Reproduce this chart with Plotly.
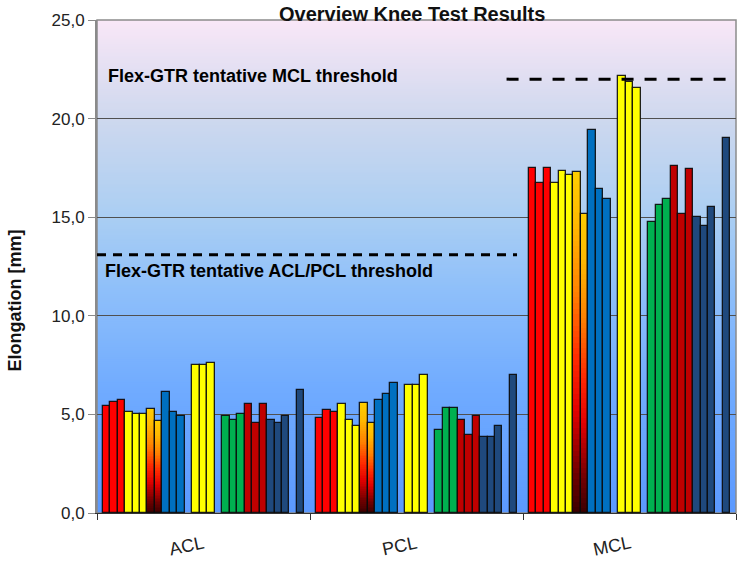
import plotly.graph_objects as go

# ---- data -------------------------------------------------------------
categories = ["ACL", "PCL", "MCL"]

# each inner list is one test series: elongation [mm] for ACL, PCL, MCL
red_series = [[5.43, 4.84, 17.52], [5.61, 5.24, 16.74], [5.72, 5.12, 17.52]]
yellow_series = [[5.12, 5.53, 16.74], [5.02, 4.73, 17.32], [5.02, 4.43, 17.13]]
gradient_series = [[5.28, 5.56, 17.27], [4.68, 4.58, 15.18]]
blue_series = [[6.12, 5.72, 19.42], [5.12, 6.02, 16.42], [4.94, 6.61, 15.93]]
yellow_b_series = [[7.51, 6.51, 22.16], [7.51, 6.51, 21.86], [7.61, 7.02, 21.55]]
green_series = [[4.92, 4.23, 14.75], [4.73, 5.31, 15.63], [5.02, 5.31, 15.93]]
darkred_series = [[5.53, 4.73, 17.62], [4.55, 3.97, 15.15], [5.53, 4.92, 17.44]]
navy_series = [[4.73, 3.87, 15.03], [4.55, 3.87, 14.56], [4.94, 4.43, 15.54]]
navy_b_series = [[6.22, 7.02, 19.01]]

threshold_values = [13.1, 22.0]
threshold_labels = ["Flex-GTR tentative ACL/PCL threshold",
                    "Flex-GTR tentative MCL threshold"]
y_tick_values = [0, 5, 10, 15, 20, 25]

# ---- styling ------------------------------------------------------------
FONT = "Arial, Liberation Sans, sans-serif"
OUTLINE = "rgba(10,10,10,0.9)"
OUTLINE_W = 1.3

# order of the bar slots inside each category (None = empty slot)
slot_groups = [
    (red_series, "#ff0000"),
    (yellow_series, "#ffff00"),
    (gradient_series, "gradient"),
    (blue_series, "#0070c0"),
    None,
    (yellow_b_series, "#ffff00"),
    None,
    (green_series, "#00b050"),
    (darkred_series, "#c00000"),
    (navy_series, "#1f497d"),
    None,
    (navy_b_series, "#1f497d"),
]

n_slots = sum(1 if g is None else len(g[0]) for g in slot_groups)
CAT_W = n_slots + 1.5           # category width in slot units
EDGE = (CAT_W - n_slots) / 2.0  # gap at each side of a category
X_MAX = CAT_W * len(categories)
Y_MAX = 25


def lerp_color(stops, f):
    f = min(max(f, 0.0), 1.0)
    for (f0, c0), (f1, c1) in zip(stops[:-1], stops[1:]):
        if f <= f1:
            t = 0 if f1 == f0 else (f - f0) / (f1 - f0)
            r, g, b = (round(a + (bb - a) * t) for a, bb in zip(c0, c1))
            return f"rgb({r},{g},{b})"
    r, g, b = stops[-1][1]
    return f"rgb({r},{g},{b})"


# fire gradient used by the gradient-filled series (bottom -> top of bar)
fire_stops = [
    (0.0, (58, 0, 0)), (0.12, (115, 0, 0)), (0.3, (225, 0, 0)),
    (0.45, (255, 40, 0)), (0.65, (255, 130, 0)), (0.85, (255, 185, 0)),
    (1.0, (255, 205, 0)),
]
# plot-area background gradient (bottom -> top)
bg_stops = [
    (0.0, (91, 153, 255)), (0.25, (112, 171, 255)), (0.45, (142, 191, 250)),
    (0.6, (170, 206, 243)), (0.8, (206, 216, 238)), (1.0, (249, 231, 247)),
]

fig = go.Figure()

slot = 0
for group in slot_groups:
    if group is None:
        slot += 1
        continue
    series_list, color = group
    for values in series_list:
        xs = [c * CAT_W + EDGE + slot + 0.5 for c in range(len(categories))]
        if color == "gradient":
            # nested overlaid bars, tallest first, give a vertical colour ramp
            n = 60
            gx, gy, gc = [], [], []
            for k in range(n):
                frac_top = (n - k) / n
                for x, v in zip(xs, values):
                    gx.append(x)
                    gy.append(v * frac_top)
                    gc.append(lerp_color(fire_stops, (n - k - 0.5) / n))
            fig.add_trace(go.Bar(x=gx, y=gy, width=1, marker=dict(color=gc, line=dict(width=0)),
                                 hoverinfo="skip", showlegend=False))
            fig.add_trace(go.Bar(x=xs, y=values, width=1,
                                 marker=dict(color="rgba(0,0,0,0)",
                                             line=dict(color=OUTLINE, width=OUTLINE_W)),
                                 showlegend=False))
        else:
            fig.add_trace(go.Bar(x=xs, y=values, width=1,
                                 marker=dict(color=color, line=dict(color=OUTLINE, width=OUTLINE_W)),
                                 showlegend=False))
        slot += 1

# background gradient bands (drawn under the grid)
shapes = []
n_bands = 250
for i in range(n_bands):
    top = Y_MAX * (n_bands - i) / n_bands
    shapes.append(dict(type="rect", xref="paper", yref="y", x0=0, x1=1, y0=0, y1=top,
                       fillcolor=lerp_color(bg_stops, (n_bands - i - 0.5) / n_bands),
                       line=dict(width=0), layer="below"))
# plot-area frame
shapes.append(dict(type="rect", xref="paper", yref="paper", x0=0, x1=1, y0=0, y1=1,
                   line=dict(color="#8c8c8c", width=1.5), fillcolor="rgba(0,0,0,0)", layer="below"))

# threshold lines
acl_thr, mcl_thr = threshold_values
shapes.append(dict(type="line", xref="x", yref="y", x0=0, x1=2 * CAT_W - 0.8,
                   y0=acl_thr, y1=acl_thr, layer="above",
                   line=dict(color="black", width=3, dash="9px,7px")))
shapes.append(dict(type="line", xref="x", yref="y", x0=2 * CAT_W - 2.2, x1=X_MAX,
                   y0=mcl_thr, y1=mcl_thr, layer="above",
                   line=dict(color="black", width=3, dash="12px,11px")))

annotations = [
    dict(text=threshold_labels[0], xref="x", yref="y", x=0.75, y=acl_thr - 0.85,
         xanchor="left", yanchor="middle", showarrow=False,
         font=dict(family=FONT, size=18, color="black", weight="bold")),
    dict(text=threshold_labels[1], xref="x", yref="y", x=1.15, y=mcl_thr + 0.16,
         xanchor="left", yanchor="middle", showarrow=False,
         font=dict(family=FONT, size=18, color="black", weight="bold")),
    dict(text="Overview Knee Test Results", xref="paper", yref="paper", x=0.4927, y=1.013,
         xanchor="center", yanchor="middle", showarrow=False,
         font=dict(family=FONT, size=20, color="#111", weight="bold")),
    dict(text="Elongation [mm]", xref="paper", yref="paper", x=-0.129, y=0.43,
         xanchor="center", yanchor="middle", showarrow=False, textangle=-90,
         font=dict(family=FONT, size=18, color="#111", weight="bold")),
]
for c, name in enumerate(categories):
    annotations.append(dict(text=name, xref="x", yref="paper", x=c * CAT_W + CAT_W / 2 - 2.33, y=-0.066,
                            xanchor="center", yanchor="middle", showarrow=False, textangle=-12,
                            font=dict(family=FONT, size=18, color="#222")))

fig.update_layout(
    width=742, height=565,
    margin=dict(l=97, r=6, t=20, b=52),
    paper_bgcolor="white", plot_bgcolor="rgba(0,0,0,0)",
    barmode="overlay", bargap=0,
    separators=",.",
    shapes=shapes, annotations=annotations,
    showlegend=False,
    xaxis=dict(range=[0, X_MAX], showgrid=False, zeroline=False,
               showline=True, linecolor="#333", linewidth=1.2,
               tickmode="array", tickvals=[c * CAT_W for c in range(len(categories) + 1)],
               ticks="outside", ticklen=6, tickcolor="#333", showticklabels=False),
    yaxis=dict(range=[0, Y_MAX], tickmode="array", tickvals=y_tick_values, tickformat=".1f",
               showgrid=True, gridcolor="#505050", gridwidth=1, zeroline=False,
               showline=True, linecolor="#8a8a8a", linewidth=2,
               ticks="outside", ticklen=7, tickcolor="#8a8a8a",
               tickfont=dict(family=FONT, size=17, color="#222")),
)

fig.write_html("out.html")
